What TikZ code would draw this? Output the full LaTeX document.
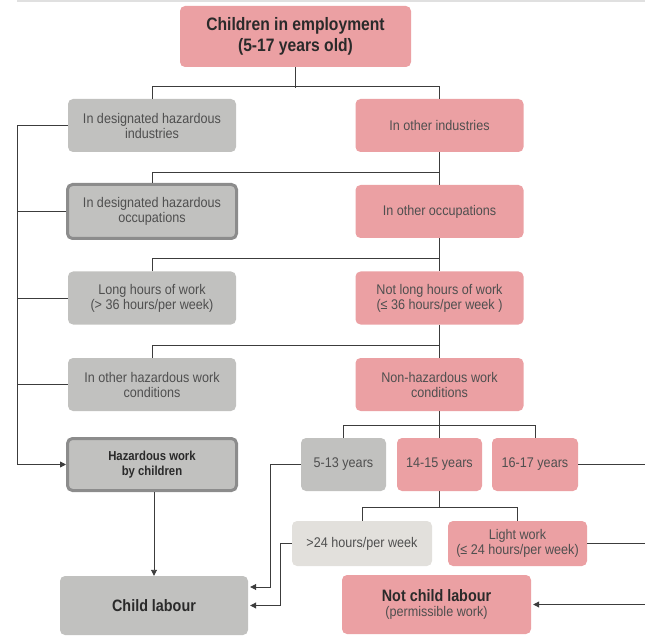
\documentclass[tikz,border=0pt]{standalone}
\usepackage{fontspec}
\setmainfont{Liberation Sans}[FakeStretch=0.9, BoldFeatures={FakeStretch=0.87}]
\usetikzlibrary{arrows.meta}

\definecolor{pinkfill}{HTML}{EBA0A3}
\definecolor{greyfill}{HTML}{C1C1BF}
\definecolor{palefill}{HTML}{E2E0DC}
\definecolor{rimgrey}{HTML}{8C8C8C}
\definecolor{linegrey}{HTML}{3C3C3C}
\definecolor{txtgrey}{HTML}{4F4F4F}
\definecolor{boldtxt}{HTML}{2A2A2A}

\begin{document}
\begin{tikzpicture}[x=1pt, y=-1pt,
    every node/.style={align=center, text=txtgrey, font=\fontsize{14}{15}\selectfont},
    box/.style={rectangle, rounded corners=5pt, inner sep=0pt},
    pinkbox/.style={box, fill=pinkfill},
    greybox/.style={box, fill=greyfill},
    rimbox/.style={box, fill=greyfill, draw=rimgrey, line width=3pt},
    wide/.style={minimum width=168pt, minimum height=53pt},
    small/.style={minimum width=85pt, minimum height=53pt},
    bigtxt/.style={text=boldtxt, font=\bfseries\fontsize{13}{15}\selectfont},
    conn/.style={draw=linegrey, line width=0.9pt},
    arr/.style={conn, -{Triangle[length=6pt,width=6pt]}}]
    \useasboundingbox (0,0) rectangle (645,644);
    \draw[black!12, line width=1.5pt] (17,1) -- (645,1);

    % top of the tree
    \node[pinkbox, minimum width=231pt, minimum height=61pt, text=boldtxt, font=\bfseries\fontsize{18}{21}\selectfont] (top) at (295.5,36.5) {Children in employment\\(5-17 years old)};

    % left column (hazardous) and right column (other)
    \node[greybox, wide] (hazind) at (152,125.5) {In designated hazardous\\industries};
    \node[pinkbox, wide] (othind) at (439.5,125.5) {In other industries};
    \node[rimbox, minimum width=169pt, minimum height=54pt] (hazocc) at (152,211.5) {In designated hazardous\\occupations};
    \node[pinkbox, wide] (othocc) at (439.5,211.5) {In other occupations};
    \node[greybox, wide] (longhrs) at (152,298) {Long hours of work\\(> 36 hours/per week)};
    \node[pinkbox, wide] (notlong) at (439.5,298) {Not long hours of work\\(≤ 36 hours/per week )};
    \node[greybox, wide] (othcond) at (152,384.5) {In other hazardous work\\conditions};
    \node[pinkbox, wide] (nonhaz) at (439.5,384.5) {Non-hazardous work\\conditions};
    \node[rimbox, minimum width=169pt, minimum height=52pt, bigtxt] (hazwork) at (152,464.5) {Hazardous work\\by children};

    % age groups
    \node[greybox, small] (yrs513) at (343.5,464.5) {5-13 years};
    \node[pinkbox, small] (yrs1415) at (439.5,464.5) {14-15 years};
    \node[pinkbox, small, minimum width=86pt] (yrs1617) at (535,464.5) {16-17 years};
    \node[box, fill=palefill, minimum width=140pt, minimum height=45pt] (over24) at (362,543.5) {>24 hours/per week};
    \node[pinkbox, minimum width=139pt, minimum height=45pt] (light) at (517.5,543.5) {Light work\\(≤ 24 hours/per week)};

    % outcomes
    \node[greybox, minimum width=188pt, minimum height=59pt, text=boldtxt, font=\bfseries\fontsize{16.5}{18}\selectfont] (childlab) at (154,605.5) {Child labour};
    \node[pinkbox, minimum width=189pt, minimum height=59pt] (notchild) at (436.5,604.5) {{\bfseries\color{boldtxt}\fontsize{16.5}{18}\selectfont Not child labour}\\(permissible work)};

    \coordinate (trunk) at (17,125.5);
    \coordinate (edge) at (645,0);

    % tree connectors
    \draw[conn] (top.south) -- ++(0,20.5);
    \draw[conn] (hazind.north) -- ++(0,-12.5) -| (othind.north);
    \draw[conn] (othind.south) -- (othocc.north);
    \draw[conn] (hazocc.north) -- ++(0,-11) -| (othind.south);
    \draw[conn] (othocc.south) -- (notlong.north);
    \draw[conn] (longhrs.north) -- ++(0,-13) -| (othocc.south);
    \draw[conn] (notlong.south) -- (nonhaz.north);
    \draw[conn] (othcond.north) -- ++(0,-12) -| (notlong.south);
    \draw[conn] (nonhaz.south) -- (yrs1415.north);
    \draw[conn] (yrs513.north) -- ++(0,-12) -| (yrs1617.north);
    \draw[conn] (yrs1415.south) -- ++(0,17);
    \draw[conn] (over24.north) -- ++(0,-13) -| (light.north);

    % hazardous side into child labour
    \draw[arr] (hazind.west) -- (trunk) |- (hazwork.west);
    \draw[conn] (hazocc.west) -- (hazocc.west -| trunk);
    \draw[conn] (longhrs.west) -- (longhrs.west -| trunk);
    \draw[conn] (othcond.west) -- (othcond.west -| trunk);
    \draw[arr] (childlab.north |- hazwork.south) -- (childlab.north);
    \draw[arr, shorten >=2pt] (yrs513.west) -- ++(-30,0) |- ([yshift=18.5pt]childlab.east);
    \draw[arr, shorten >=2pt] (over24.west) -- ++(-11,0) |- (childlab.east);

    % permissible side, running off the right edge
    \draw[conn] (yrs1617.east) -- (yrs1617.east -| edge);
    \draw[conn] (light.east) -- (light.east -| edge);
    \draw[arr, shorten >=2pt] (notchild.east -| edge) -- (notchild.east);
\end{tikzpicture}
\end{document}
